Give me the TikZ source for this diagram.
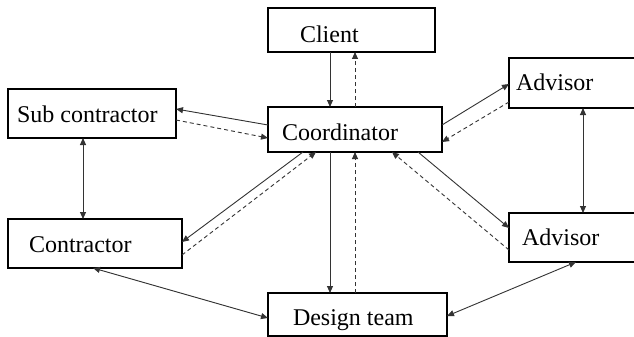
\documentclass[tikz,border=0pt]{standalone}
\usepackage{fontspec}
\setmainfont{Liberation Serif}
\usetikzlibrary{arrows.meta,calc}
\definecolor{linegray}{HTML}{333333}
\tikzset{
  box/.style={draw=black, line width=1.3pt, fill=none, inner sep=0pt, outer sep=0pt, anchor=north west},
  lbl/.style={anchor=base west, inner sep=0pt, outer sep=0pt, font=\fontsize{24}{28}\selectfont},
  conn/.style={draw=linegray, line width=0.9pt, -{Triangle[length=7pt,width=6pt]}},
  biconn/.style={draw=linegray, line width=0.9pt, {Triangle[length=7pt,width=6pt]}-{Triangle[length=7pt,width=6pt]}},
  dconn/.style={conn, dash pattern=on 4pt off 3pt}
}
\begin{document}
\begin{tikzpicture}[x=1pt,y=-1pt]
\useasboundingbox (0,0) rectangle (634,337);
\fill[white] (0,0) rectangle (634,337);
\clip (0,0) rectangle (634,337);
% boxes
\node[box, minimum width=167pt, minimum height=44pt] (client) at (268,8) {};
\node[box, minimum width=174pt, minimum height=45pt] (coord) at (268,107) {};
\node[box, minimum width=168pt, minimum height=49pt] (sub) at (8,89) {};
\node[box, minimum width=140pt, minimum height=50pt] (advT) at (509,58) {};
\node[box, minimum width=140pt, minimum height=49pt] (advB) at (509,213) {};
\node[box, minimum width=174pt, minimum height=49pt] (contr) at (8,219) {};
\node[box, minimum width=179pt, minimum height=43pt] (design) at (268,293) {};
% labels
\node[lbl] (clientT) at (300,42) {Client};
\node[lbl] (coordT) at (282,140) {Coordinator};
\node[lbl] (subT) at (17,122) {Sub contractor};
\node[lbl] (advTT) at (516,90) {Advisor};
\node[lbl] (advBT) at (522,245) {Advisor};
\node[lbl] (contrT) at (29,252) {Contractor};
\node[lbl] (designT) at (293,325) {Design team};
% connectors
\draw[conn] ($(client.south west)+(62,0)$) -- ($(coord.north west)+(62,0)$);
\draw[dconn] ($(coord.north west)+(87,0)$) -- ($(client.south west)+(87,0)$);
\draw[conn] ($(coord.north west)+(0,18)$) -- ($(sub.north east)+(0,20)$);
\draw[dconn] ($(sub.north east)+(0,31)$) -- ($(coord.north west)+(0,31)$);
\draw[biconn] ($(sub.south west)+(75,0)$) -- ($(contr.north west)+(75,0)$);
\draw[conn] ($(coord.south west)+(35,0)$) -- ($(contr.north east)+(0,23)$);
\draw[dconn] ($(contr.north east)+(0,36)$) -- ($(coord.south west)+(48,0)$);
\draw[conn] ($(coord.south west)+(62,0)$) -- ($(design.north west)+(62,0)$);
\draw[dconn] ($(design.north west)+(87,0)$) -- ($(coord.south west)+(87,0)$);
\draw[conn] ($(coord.north east)+(0,18)$) -- ($(advT.north west)+(0,26)$);
\draw[dconn] ($(advT.north west)+(0,44)$) -- ($(coord.north east)+(0,35)$);
\draw[biconn] ($(advT.south west)+(74,0)$) -- ($(advB.north west)+(74,0)$);
\draw[conn] ($(coord.south west)+(150,0)$) -- ($(advB.north west)+(0,15)$);
\draw[dconn] ($(advB.north west)+(0,37)$) -- ($(coord.south west)+(124,0)$);
\draw[biconn] ($(contr.south west)+(85,0)$) -- ($(design.north west)+(0,25)$);
\draw[biconn] ($(design.north east)+(0,23)$) -- ($(advB.south west)+(67,0)$);
\end{tikzpicture}
\end{document}
